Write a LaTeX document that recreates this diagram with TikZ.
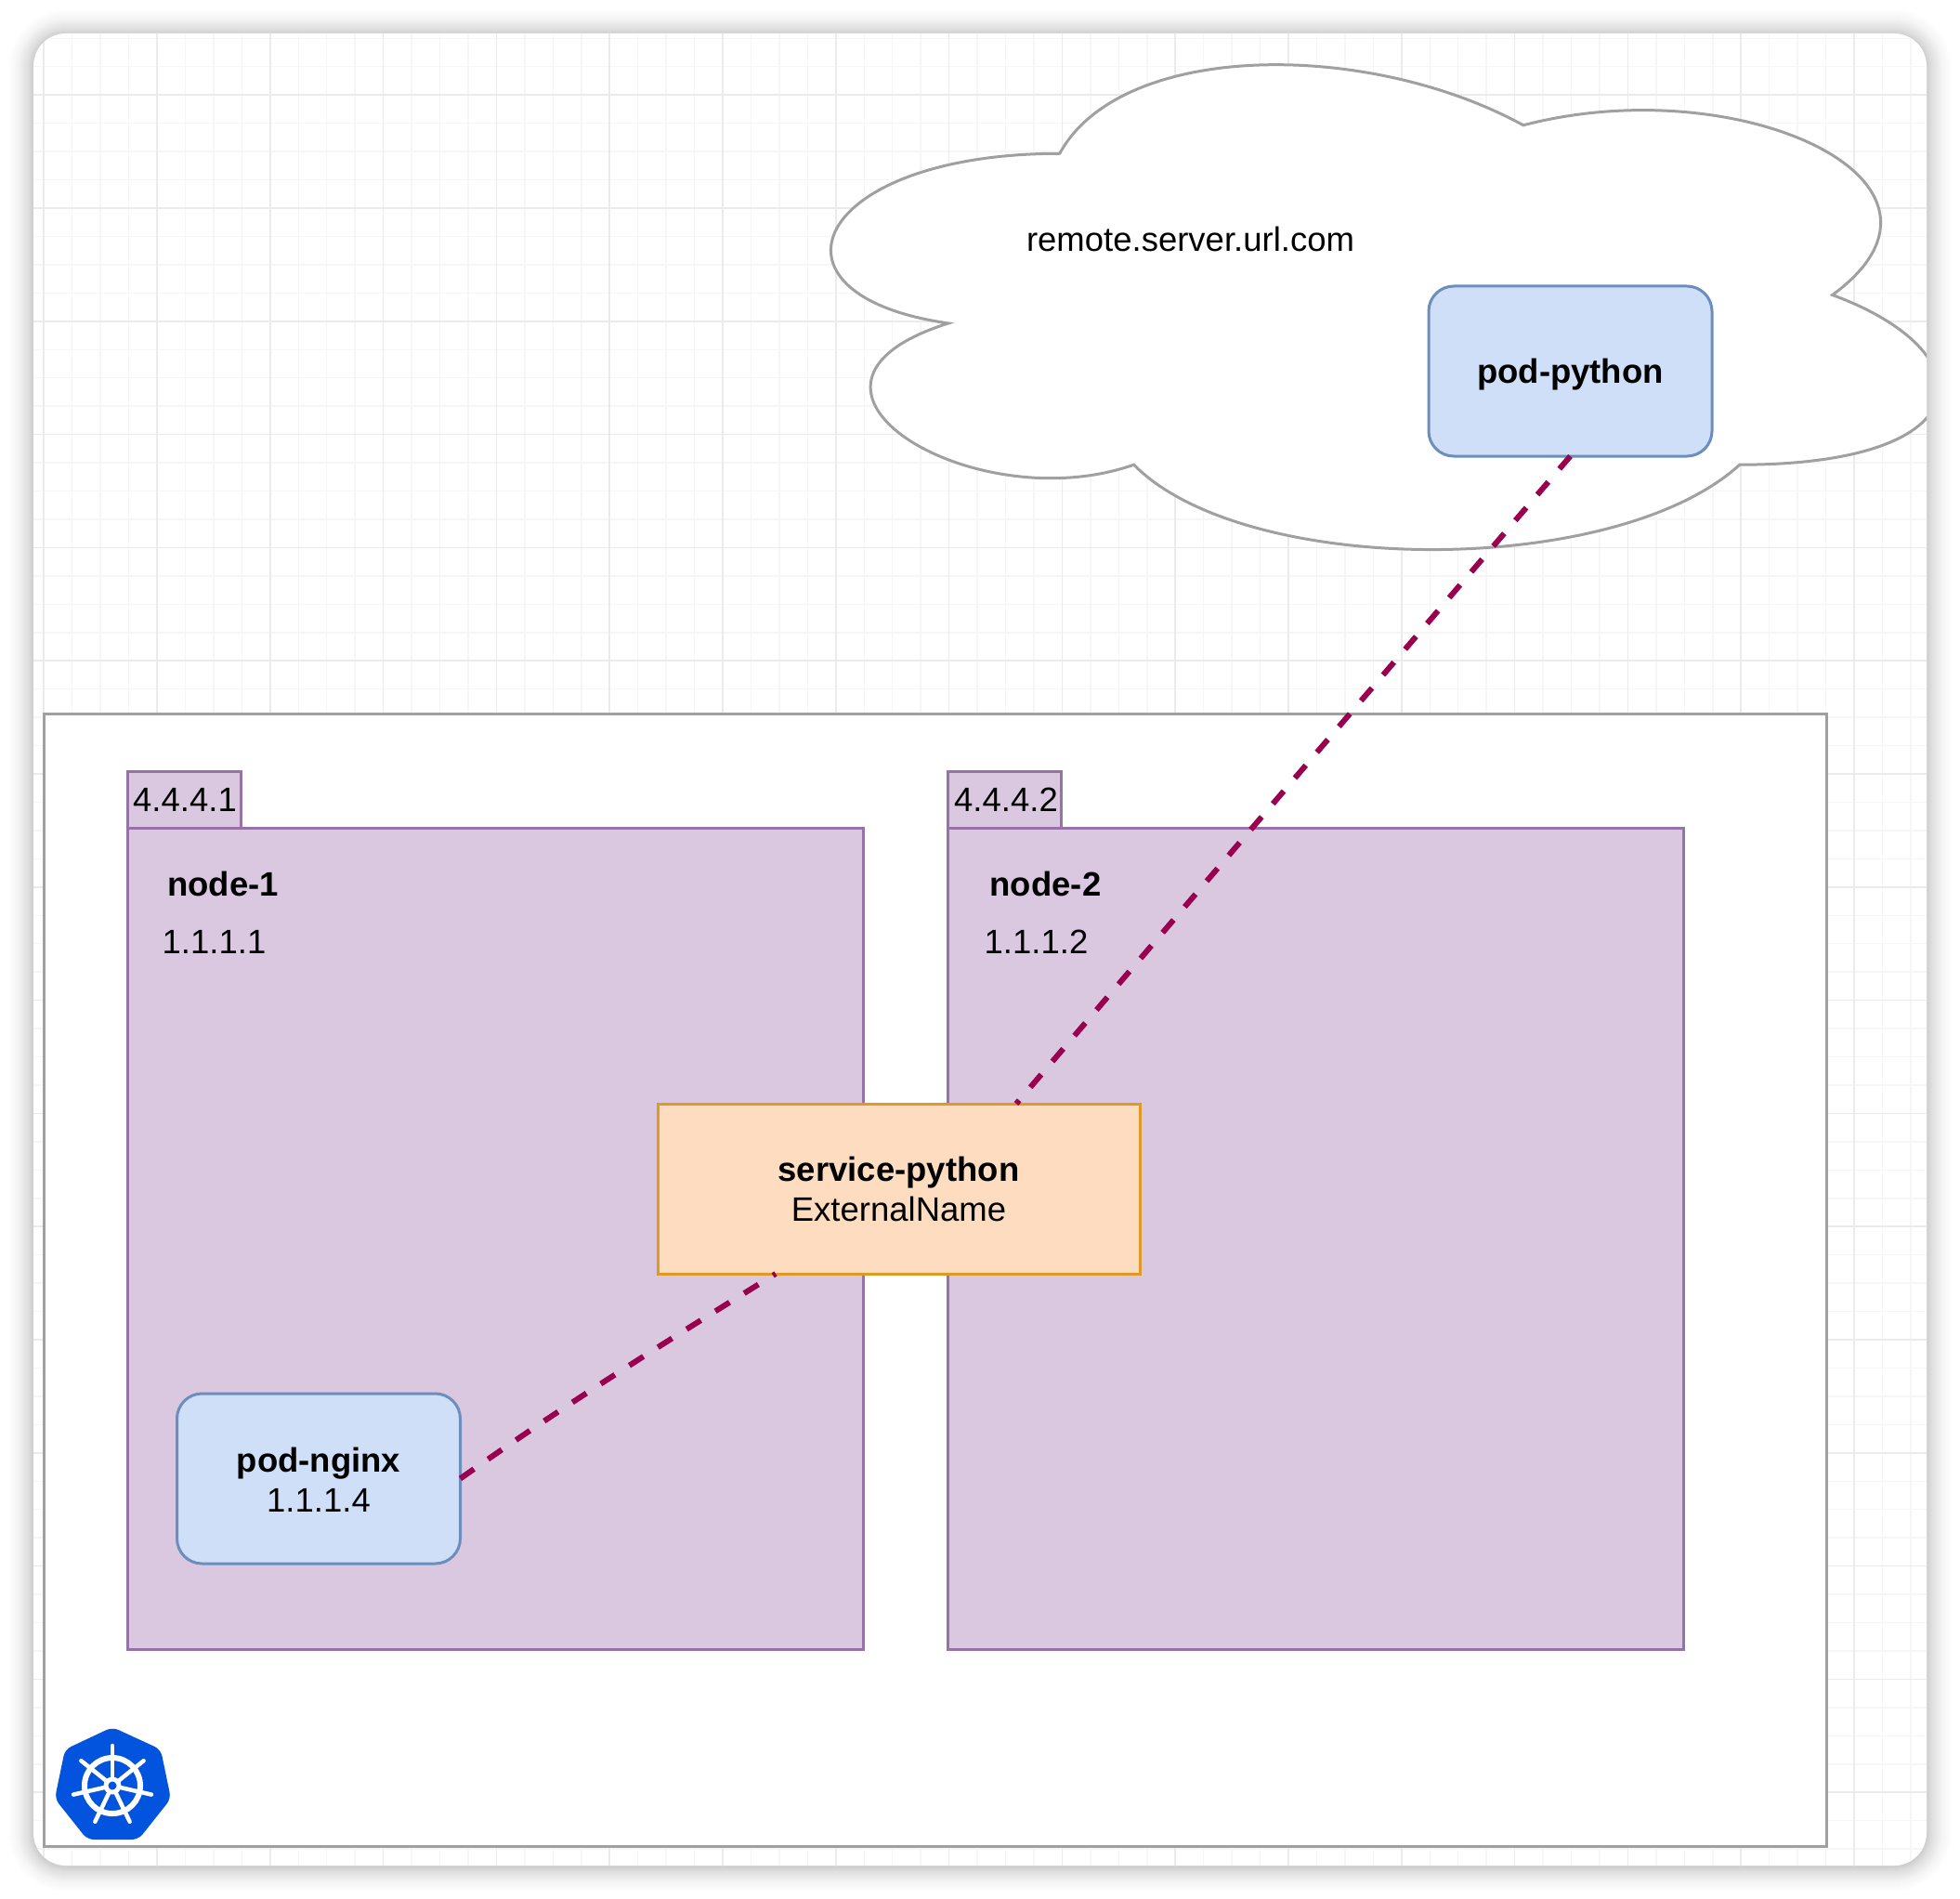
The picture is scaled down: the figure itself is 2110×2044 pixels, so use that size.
\documentclass[tikz,border=0pt]{standalone}
\usepackage{fontspec}
\setmainfont{Liberation Sans}
\definecolor{gridmajor}{HTML}{EBEBEB}
\definecolor{gridminor}{HTML}{F6F6F6}
\definecolor{edgegray}{HTML}{A0A0A0}
\definecolor{purplefill}{HTML}{D9C8E0}
\definecolor{purpleline}{HTML}{9673A6}
\definecolor{bluefill}{HTML}{CFDFF8}
\definecolor{blueline}{HTML}{6C8EBF}
\definecolor{orangefill}{HTML}{FDDCBF}
\definecolor{orangeline}{HTML}{DE9A25}
\definecolor{linkcolor}{HTML}{99004D}
\definecolor{k8sblue}{HTML}{0254DE}
\tikzset{
  txt/.style={font=\fontsize{36.5}{43}\selectfont,inner sep=0pt,outer sep=0pt,text=black},
  basetxt/.style={txt,anchor=base},
  boxbase/.style={rectangle,inner sep=0pt,outer sep=0pt,line width=3pt,anchor=north west},
  purplebox/.style={boxbase,fill=purplefill,draw=purpleline},
  podbox/.style={boxbase,fill=bluefill,draw=blueline,rounded corners=27pt,
    minimum width=305pt,minimum height=183pt,txt,align=center},
  svcbox/.style={boxbase,fill=orangefill,draw=orangeline,txt,align=center},
  link/.style={draw=linkcolor,line width=6pt,dash pattern=on 18pt off 18.5pt},
  wheel/.style={draw=white,line width=4.5pt,line cap=round},
}
\begin{document}
\begin{tikzpicture}[x=1pt,y=-1pt]
\useasboundingbox (0,0) rectangle (2110,2044);
\fill[white] (0,0) rectangle (2110,2044);
% page shadow
\foreach \r in {1,...,32}{
  \pgfmathsetmacro{\al}{0.0118*(1-\r/33)}
  \pgfmathsetmacro{\rad}{35+\r}
  \fill[black,fill opacity=\al,rounded corners=\rad pt]
    (36-\r,36-\r+1) rectangle (2074+\r,2008+\r+1);
}
\fill[white,rounded corners=35pt] (36,36) rectangle (2074,2008);
\begin{scope}
  \clip[rounded corners=35pt] (36,36) rectangle (2074,2008);
  % grid
  \foreach \i in {-5,...,64}{
    \pgfmathsetmacro{\px}{169+30.45*\i}
    \pgfmathsetmacro{\py}{102.2+30.45*\i}
    \draw[gridminor,line width=1.5pt] (\px,0) -- (\px,2044);
    \draw[gridminor,line width=1.5pt] (0,\py) -- (2110,\py);
  }
  \foreach \i in {-1,...,16}{
    \pgfmathsetmacro{\px}{169+121.8*\i}
    \pgfmathsetmacro{\py}{102.2+121.8*\i}
    \draw[gridmajor,line width=1.5pt] (\px,0) -- (\px,2044);
    \draw[gridmajor,line width=1.5pt] (0,\py) -- (2110,\py);
  }
  % cloud
  \begin{scope}[shift={(808,13)},x=1331pt,y=-609pt]
    \draw[edgegray,fill=white,line width=3pt]
      (0.25,0.25) .. controls (0.05,0.25) and (0,0.5) .. (0.16,0.55)
      .. controls (0,0.66) and (0.18,0.9) .. (0.31,0.8)
      .. controls (0.4,1) and (0.7,1) .. (0.8,0.8)
      .. controls (1,0.8) and (1,0.6) .. (0.875,0.5)
      .. controls (1,0.3) and (0.8,0.1) .. (0.625,0.2)
      .. controls (0.5,0.05) and (0.3,0.05) .. (0.25,0.25) -- cycle;
  \end{scope}
\end{scope}
\node[basetxt] (cloudlabel) at (1281.5,271) {remote.server.url.com};
% cluster
\node[boxbase,draw=edgegray,fill=white,minimum width=1919pt,minimum height=1219pt] (cluster) at (47.5,768.5) {};
% node 1
\node[purplebox,minimum width=122pt,minimum height=61pt] (tab1) at (137,830) {};
\node[purplebox,minimum width=792pt,minimum height=884pt] (node1) at (137,891) {};
\node[basetxt] (tab1label) at (199,873) {4.4.4.1};
\node[basetxt] (node1name) at (240,964) {\bfseries node-1};
\node[basetxt] (node1ip) at (230.5,1026) {1.1.1.1};
% node 2
\node[purplebox,minimum width=122pt,minimum height=61pt] (tab2) at (1020.5,830) {};
\node[purplebox,minimum width=792pt,minimum height=884pt] (node2) at (1020.5,891) {};
\node[basetxt] (tab2label) at (1083,873) {4.4.4.2};
\node[basetxt] (node2name) at (1125.5,964) {\bfseries node-2};
\node[basetxt] (node2ip) at (1115.5,1026) {1.1.1.2};
% pods and service
\node[podbox] (podnginx) at (190.5,1500) {\rule{0pt}{28pt}\bfseries pod-nginx\\1.1.1.4};
\node[podbox,text depth=0pt] (podpython) at (1538,308) {\bfseries pod-python};
\node[svcbox,minimum width=519pt,minimum height=183pt] (service) at (708,1188) {\rule{0pt}{28pt}\bfseries service-python\\ExternalName};
\coordinate (svctop) at ([xshift=386pt]service.north west);
\coordinate (svcbottom) at ([xshift=127pt]service.south west);
\draw[link] (podpython.south) -- (svctop);
\draw[link] (podnginx.east) .. controls (608,1512) and (722,1441) .. (svcbottom);
% kubernetes logo
\fill[k8sblue,rounded corners=7pt] (121,1859) -- (173,1883) -- (184,1936) -- (149,1980) -- (94,1980) -- (59,1936) -- (70,1883) -- cycle;
\coordinate (hub) at (121,1922);
\draw[white,line width=6pt] (hub) circle[radius=30pt];
\foreach \a in {90,141.43,192.86,244.29,295.71,347.14,398.57}{
  \draw[wheel] (hub) -- ++(\a:43pt);
}
\fill[white] (hub) circle[radius=9.5pt];
\fill[k8sblue] (hub) circle[radius=4.5pt];
\end{tikzpicture}
\end{document}
